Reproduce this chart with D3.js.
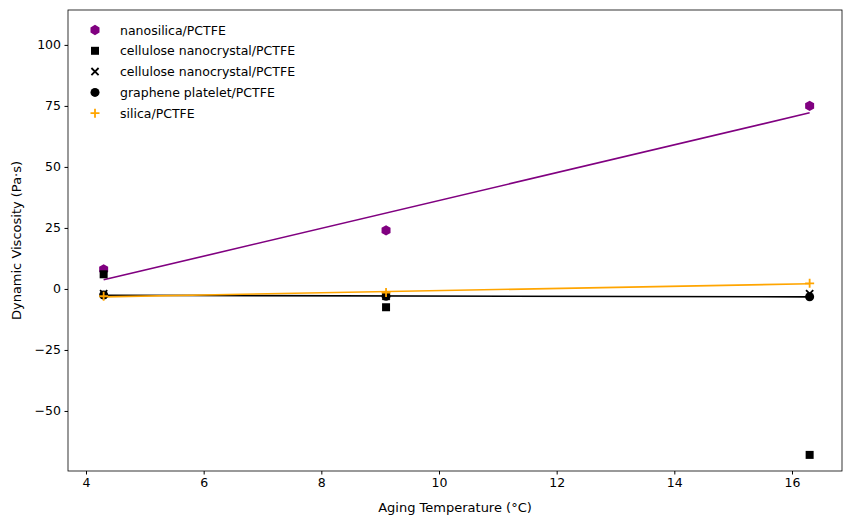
<!DOCTYPE html>
<html><head><meta charset="utf-8">
<script src="https://cdn.jsdelivr.net/npm/d3@7"></script>
<style>body{margin:0;background:#fff}text{font-family:"DejaVu Sans",sans-serif}</style>
</head><body><svg id="c" width="853" height="525"></svg>
<script>
const temps = [4.3, 9.1, 16.3];
const nanosilica = [8, 24, 75];
const cncSquare = [6, -7.5, -68];
const cncCross = [-2, -3, -2];
const graphene = [-2.5, -3, -3.2];
const silica = [-3, -1.5, 2.3];
const xTicks = [4, 6, 8, 10, 12, 14, 16];
const yTicks = [-50, -25, 0, 25, 50, 75, 100];

const svg = d3.select("#c");
const m = {l: 68, r: 842, t: 10, b: 471};
const x = d3.scaleLinear().domain([3.694, 16.85]).range([m.l, m.r]);
const y = d3.scaleLinear().domain([-74.6, 114.3]).range([m.b, m.t]);

svg.append("g").attr("transform", `translate(0,${m.b})`)
  .call(d3.axisBottom(x).tickValues(xTicks).tickSizeOuter(0).tickSize(3.5).tickPadding(3.5));
svg.append("g").attr("transform", `translate(${m.l},0)`)
  .call(d3.axisLeft(y).tickValues(yTicks).tickSizeOuter(0).tickSize(3.5).tickPadding(3.5)
    .tickFormat(d => d < 0 ? "\u2212" + Math.abs(d) : d));
svg.selectAll(".tick text").attr("font-size", 12.5).attr("fill", "#000");
svg.selectAll(".domain").remove();
svg.append("rect").attr("x", m.l).attr("y", m.t).attr("width", m.r - m.l).attr("height", m.b - m.t)
  .attr("fill", "none").attr("stroke", "#000").attr("stroke-width", 0.8);

svg.append("text").attr("x", (m.l + m.r) / 2).attr("y", 512).attr("text-anchor", "middle")
  .attr("font-size", 13).text("Aging Temperature (°C)");
svg.append("text").attr("transform", `translate(21,${(m.t + m.b) / 2}) rotate(-90)`)
  .attr("text-anchor", "middle").attr("font-size", 13).text("Dynamic Viscosity (Pa·s)");

function fit(ys) {
  const mx = d3.mean(temps), my = d3.mean(ys);
  const s = d3.sum(temps, (t, i) => (t - mx) * (ys[i] - my)) / d3.sum(temps, t => (t - mx) ** 2);
  return [temps[0], temps[2]].map(t => [t, my + s * (t - mx)]);
}
const line = d3.line().x(d => x(d[0])).y(d => y(d[1]));
[[nanosilica, "#800080"], [graphene, "#000"], [silica, "orange"]].forEach(([ys, c]) =>
  svg.append("path").attr("d", line(fit(ys))).attr("fill", "none").attr("stroke", c).attr("stroke-width", 1.6));

const hex = d3.symbol().type({draw(ctx, size) {
  const r = Math.sqrt(size / 2.6);
  for (let i = 0; i < 6; i++) { const a = Math.PI / 3 * i + Math.PI / 6;
    i ? ctx.lineTo(r * Math.cos(a), r * Math.sin(a)) : ctx.moveTo(r * Math.cos(a), r * Math.sin(a)); }
  ctx.closePath(); }}).size(70)();
const sq = d3.symbol(d3.symbolSquare, 64)();
const circ = d3.symbol(d3.symbolCircle, 64)();
const cross = "M-3.6,-3.6L3.6,3.6M-3.6,3.6L3.6,-3.6";
const plus = "M-4.5,0L4.5,0M0,-4.5L0,4.5";

const series = [
  {name: "nanosilica/PCTFE", ys: nanosilica, path: hex, c: "#800080", fill: true},
  {name: "cellulose nanocrystal/PCTFE", ys: cncSquare, path: sq, c: "#000", fill: true},
  {name: "cellulose nanocrystal/PCTFE", ys: cncCross, path: cross, c: "#000", fill: false},
  {name: "graphene platelet/PCTFE", ys: graphene, path: circ, c: "#000", fill: true},
  {name: "silica/PCTFE", ys: silica, path: plus, c: "orange", fill: false}
];
function mark(g, s) {
  return g.append("path").attr("d", s.path)
    .attr("fill", s.fill ? s.c : "none").attr("stroke", s.c).attr("stroke-width", s.fill ? 0 : 1.8);
}
series.forEach(s => s.ys.forEach((v, i) => {
  const g = svg.append("g").attr("transform", `translate(${x(temps[i])},${y(v)})`);
  mark(g, s);
}));
series.forEach((s, i) => {
  const yy = 30 + i * 20.8;
  mark(svg.append("g").attr("transform", `translate(95,${yy})`), s);
  svg.append("text").attr("x", 120).attr("y", yy + 4.5).attr("font-size", 12.5).text(s.name);
});
</script></body></html>
